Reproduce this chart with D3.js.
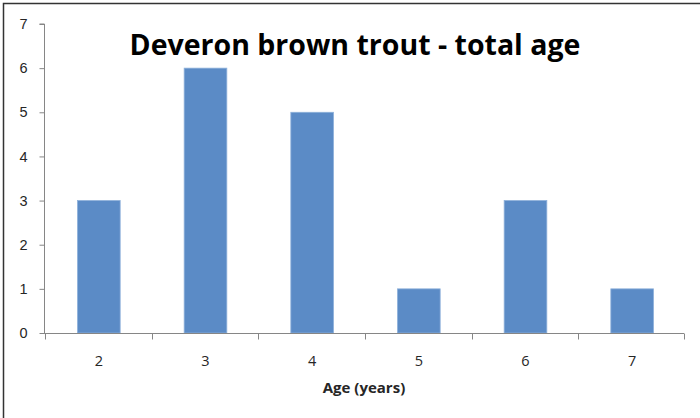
<!DOCTYPE html>
<html>
<head>
<meta charset="utf-8">
<script src="https://cdn.jsdelivr.net/npm/d3@7"></script>
<style>
  body { margin: 0; background: #fff; }
  svg { display: block; font-family: "Open Sans", "Noto Sans", sans-serif; }
</style>
</head>
<body>
<div id="main"></div>
<script>
var ages = ["2", "3", "4", "5", "6", "7"];
var counts = [3, 6, 5, 1, 3, 1];
var yTicks = [0, 1, 2, 3, 4, 5, 6, 7];

var width = 700, height = 418;
var svg = d3.select("#main").append("svg")
  .attr("width", width)
  .attr("height", height);

// chart border (only top and left edge are visible in the picture)
svg.append("rect")
  .attr("x", 3.5).attr("y", 3.5)
  .attr("width", width + 10).attr("height", height + 10)
  .attr("fill", "#fff")
  .attr("stroke", "#333")
  .attr("stroke-width", 1.5);

var x0 = 44, x1 = 684;
var x = d3.scaleBand().domain(ages).range([x0 + 1.5, x1 + 1.5]).paddingInner(0.6).paddingOuter(0.3);
var y = d3.scaleLinear().domain([0, 7]).range([333, 24]);

svg.append("g").selectAll("rect").data(counts).enter().append("rect")
  .attr("x", function(d, i) { return x(ages[i]); })
  .attr("y", function(d) { return y(d); })
  .attr("width", x.bandwidth())
  .attr("height", function(d) { return y(0) - y(d); })
  .attr("fill", "#5B8BC6")
  .attr("stroke", "#8DB0DA")
  .attr("stroke-width", 0.8);

// y axis
var yAxis = d3.axisLeft(y).tickValues(yTicks).tickSize(5).tickPadding(12).tickFormat(d3.format("d"));
var gy = svg.append("g").attr("transform", "translate(44.5,0)").call(yAxis);
gy.select(".domain").attr("stroke", "#868686").attr("d", "M-5," + y(7) + "H0V" + y(0));
gy.selectAll(".tick line").attr("stroke", "#868686");
gy.selectAll("text").attr("font-size", 14.5).attr("fill", "#262626");

// x axis, ticks between categories
var xEdges = d3.range(ages.length + 1).map(function(i) { return x0 + 1 + i * (x1 - x0) / ages.length; });
var gx = svg.append("g").attr("transform", "translate(0,333.5)");
gx.append("line").attr("x1", x0).attr("x2", x1).attr("stroke", "#868686");
gx.selectAll(".xt").data(xEdges).enter().append("line")
  .attr("x1", function(d) { return Math.min(Math.round(d), x1) + 0.5; })
  .attr("x2", function(d) { return Math.min(Math.round(d), x1) + 0.5; })
  .attr("y1", 0).attr("y2", 6)
  .attr("stroke", "#868686");
gx.selectAll(".xl").data(ages).enter().append("text")
  .attr("x", function(d) { return x(d) + x.bandwidth() / 2; })
  .attr("y", 32)
  .attr("text-anchor", "middle")
  .attr("font-size", 14.5)
  .attr("fill", "#262626")
  .text(function(d) { return d; });

svg.append("text")
  .attr("x", 355).attr("y", 55)
  .attr("text-anchor", "middle")
  .attr("font-size", 28.5)
  .attr("font-weight", "bold")
  .attr("fill", "#000")
  .text("Deveron brown trout - total age");

svg.append("text")
  .attr("x", 364).attr("y", 393)
  .attr("text-anchor", "middle")
  .attr("font-size", 15)
  .attr("font-weight", "bold")
  .attr("fill", "#262626")
  .text("Age (years)");
</script>
</body>
</html>
